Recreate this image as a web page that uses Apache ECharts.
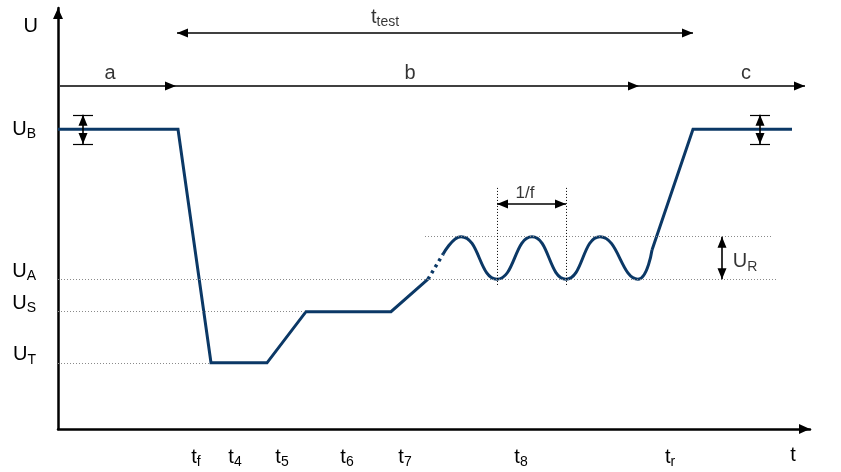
<!DOCTYPE html>
<html><head><meta charset="utf-8">
<script src="https://cdn.jsdelivr.net/npm/echarts@6/dist/echarts.min.js"></script>
<style>html,body{margin:0;padding:0;background:#fff}#c{width:841px;height:472px}</style>
</head><body><div id="c"></div>
<script>
// ---- voltage levels (V) ----
const U_B = 12.0, U_A = 6.0, U_S = 4.7, U_T = 2.65, U_PEAK = 7.7;

// ---- waveform (time in arbitrary units, voltage in V) ----
const pulseX  = [0, 60, 76.5, 104.5, 124, 166.5, 185];
const pulseY  = [U_B, U_B, U_T, U_T, U_S, U_S, U_A];
const gapX    = [185, 192.5];
const gapY    = [U_A, 7.0];
const rippleX = [192.5, 201.5, 219.5, 237, 254, 271, 290, 297];
const rippleY = [7.0, U_PEAK, U_A, U_PEAK, U_A, U_PEAK, U_A, 7.17];
const riseX   = [297, 317.5, 367];
const riseY   = [7.17, U_B, U_B];

// ---- segment boundaries on the time axis ----
const tBounds = [59, 76.5, 105, 124, 166.5, 185, 290.5, 317.5];
const tBoundTop = [16.45, U_T, U_T, U_S, U_S, U_A, 13.74, 16.45];
const periodX = [219.5, 254];

// ---- tick labels ----
const tLabels   = [['t','f'], ['t','4'], ['t','5'], ['t','6'], ['t','7'], ['t','8'], ['t','r'], ['t','']];
const tLabelAt  = [69, 88.5, 112, 144.5, 173.5, 231.5, 306, 367.5];
const uLabels   = [['U','T'], ['U','S'], ['U','A'], ['U','B']];
const uLabelAt  = [U_T, U_S, U_A, U_B];

// ---- annotation arrows ----
const ROW_TEST = 15.86, ROW_ABC = 13.74, ROW_F = 9.01;
const phaseX = [1, 59, 290.5, 373.5];         // a | b | c boundaries
const testX = [59.5, 317.5];
const ubMarkX = [12.5, 351];
const ubTol = [11.41, 12.58];
const urX = 332;

const NAVY = '#0b3866';
const FONT = 'Liberation Sans';
// arrow head whose tip sits on the line end point
const HEAD = 'path://M0,0L5,11L-5,11ZM0,-11L0.01,-11';

function pairs(xs, ys){ return xs.map((x,i)=>[x, ys[i]]); }
function sub(m, s){ return s ? '{m|'+m+'}{s|'+s+'}' : '{m|'+m+'}'; }
const rich = {
  m: {fontSize: 20, fontFamily: FONT, color: '#000'},
  s: {fontSize: 14, fontFamily: FONT, color: '#000', padding: [10,0,0,0]},
  g: {fontSize: 10, lineHeight: 16}
};

const thinBlack = {color:'#000', width:1, type:[1,2]};
const greyDot = {color:'#8a8a8a', width:1, type:[1,2]};
const arrowLine = {color:'#000', width:1.6, type:'solid'};

function ml(data, symbol, style, symbolSize){
  return {silent:true, symbol: symbol, symbolSize: symbolSize || [9,22], lineStyle: style,
          label:{show:false}, emphasis:{disabled:true}, animation:false, data: data};
}

const guideData = [
  [{coord:[0,U_T]},{coord:[76.5,U_T]}],
  [{coord:[0,U_S]},{coord:[124,U_S]}],
  [{coord:[0,U_A]},{coord:[359,U_A]}],
  [{coord:[183.5,U_PEAK]},{coord:[357,U_PEAK]}]
];
const vData = tBounds.map((x,i)=>[{coord:[x,-0.25]},{coord:[x,tBoundTop[i]]}])
  .concat(periodX.map(x=>[{coord:[x,5.77]},{coord:[x,9.69]}]));

const oneWay = [
  [{coord:[phaseX[0],ROW_ABC]},{coord:[phaseX[1],ROW_ABC]}],
  [{coord:[phaseX[1],ROW_ABC]},{coord:[phaseX[2],ROW_ABC]}],
  [{coord:[phaseX[2],ROW_ABC]},{coord:[phaseX[3],ROW_ABC]}]
];
const twoWay = [
  [{coord:[testX[0],ROW_TEST]},{coord:[testX[1],ROW_TEST]}],
  [{coord:[periodX[0],ROW_F]},{coord:[periodX[1],ROW_F]}],
  [{coord:[urX,U_PEAK]},{coord:[urX,U_A]}]
].concat(ubMarkX.map(x=>[{coord:[x,ubTol[1]]},{coord:[x,ubTol[0]]}]));
const bars = [];
ubMarkX.forEach(x=>{ ubTol.forEach(y=>{ bars.push([{coord:[x-5,y]},{coord:[x+5,y]}]); }); });

const notes = [
  [163.5, 16.5, sub('t','test')],
  [26, 14.25, sub('a')],
  [176, 14.25, sub('b')],
  [344, 14.25, sub('c')],
  [233.5, 9.45, '{n|1/f}'],
  [343.5, 6.69, sub('U','R')]
];

const chart = echarts.init(document.getElementById('c'), null, {renderer:'canvas'});
chart.setOption({
  animation:false,
  backgroundColor:'#fff',
  grid:{left:58, bottom:43, width:752, height:421, containLabel:false},
  xAxis:{type:'value', min:0, max:376,
    axisLine:{show:true, onZero:false, symbol:['none',HEAD], symbolSize:[10,26], lineStyle:{color:'#000', width:2.5}},
    axisTick:{show:false}, splitLine:{show:false},
    axisLabel:{show:true, customValues:tLabelAt, margin:16, rich:rich,
      formatter:(v)=>{ const i = tLabelAt.indexOf(v); return i<0 ? '' : sub(tLabels[i][0], tLabels[i][1]); }}
  },
  yAxis:{type:'value', min:0, max:16.86,
    name:'U', nameLocation:'end', nameGap:-28,
    nameTextStyle:{fontSize:20, fontFamily:FONT, color:'#000', align:'right', padding:[0,20,0,0]},
    axisLine:{show:true, onZero:false, symbol:['none',HEAD], symbolSize:[10,26], lineStyle:{color:'#000', width:2.5}},
    axisTick:{show:false}, splitLine:{show:false},
    axisLabel:{show:true, customValues:uLabelAt, margin:22, rich:rich,
      formatter:(v)=>{ const i = uLabelAt.indexOf(v); if(i<0) return '';
        const t = sub(uLabels[i][0], uLabels[i][1]); return v===U_B ? t : t+'\n{g| }'; }}
  },
  series:[
    {type:'line', name:'guides', data:[], markLine: ml(guideData, ['none','none'], greyDot)},
    {type:'line', name:'bounds', data:[], markLine: ml(vData, ['none','none'], thinBlack)},
    {type:'line', name:'pulse', data:pairs(pulseX,pulseY), showSymbol:false, symbol:'none', clip:false,
      lineStyle:{color:NAVY, width:3, join:'miter'}},
    {type:'line', name:'gap', data:pairs(gapX,gapY), showSymbol:false, symbol:'none', clip:false,
      lineStyle:{color:NAVY, width:3.5, type:[3,4]}},
    {type:'line', name:'ripple', data:pairs(rippleX,rippleY), smooth:0.5, showSymbol:false, symbol:'none', clip:false,
      lineStyle:{color:NAVY, width:3}},
    {type:'line', name:'rise', data:pairs(riseX,riseY), showSymbol:false, symbol:'none', clip:false,
      lineStyle:{color:NAVY, width:3, join:'miter'}},
    {type:'line', name:'arrows1', data:[], markLine: ml(oneWay, ['none',HEAD], arrowLine)},
    {type:'line', name:'arrows2', data:[], markLine: ml(twoWay, [HEAD,HEAD], arrowLine)},
    {type:'line', name:'bars', data:[], markLine: ml(bars, ['none','none'], {color:'#000', width:1.2, type:'solid'})},
    {type:'scatter', name:'notes', data:notes, symbolSize:0, clip:false, silent:true,
      label:{show:true, position:'inside', formatter:(p)=>p.data[2],
        rich:Object.assign({n:{fontSize:17, fontFamily:FONT, color:'#000'}}, rich)}}
  ]
});
</script></body></html>
